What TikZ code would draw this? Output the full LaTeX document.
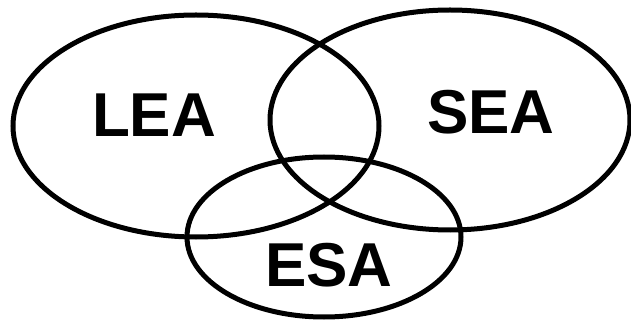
\documentclass[tikz,border=0pt]{standalone}
\usepackage{fontspec}
\setmainfont{Liberation Sans}
\usetikzlibrary{shapes.geometric}
\tikzset{
  ring/.style={draw,ellipse,line width=5pt,inner sep=0pt},
  tag/.style={font=\bfseries\fontsize{62}{62}\selectfont,inner sep=0pt}
}
\begin{document}
\begin{tikzpicture}[x=1pt,y=-1pt]
\useasboundingbox (0,0) rectangle (631,320);
   \node[ring,minimum width=366pt,minimum height=222pt] at (196,126) (lea) {};
   \node[ring,minimum width=360pt,minimum height=220pt] at (450,120) (sea) {};
   \node[ring,minimum width=274pt,minimum height=160pt] at (324,237) (esa) {};

   \node[tag] at (154,115) (lealabel) {LEA};
   \node[tag] at (491,112) (sealabel) {SEA};
   \node[tag] at (329,265) (esalabel) {ESA};
\end{tikzpicture}
\end{document}
